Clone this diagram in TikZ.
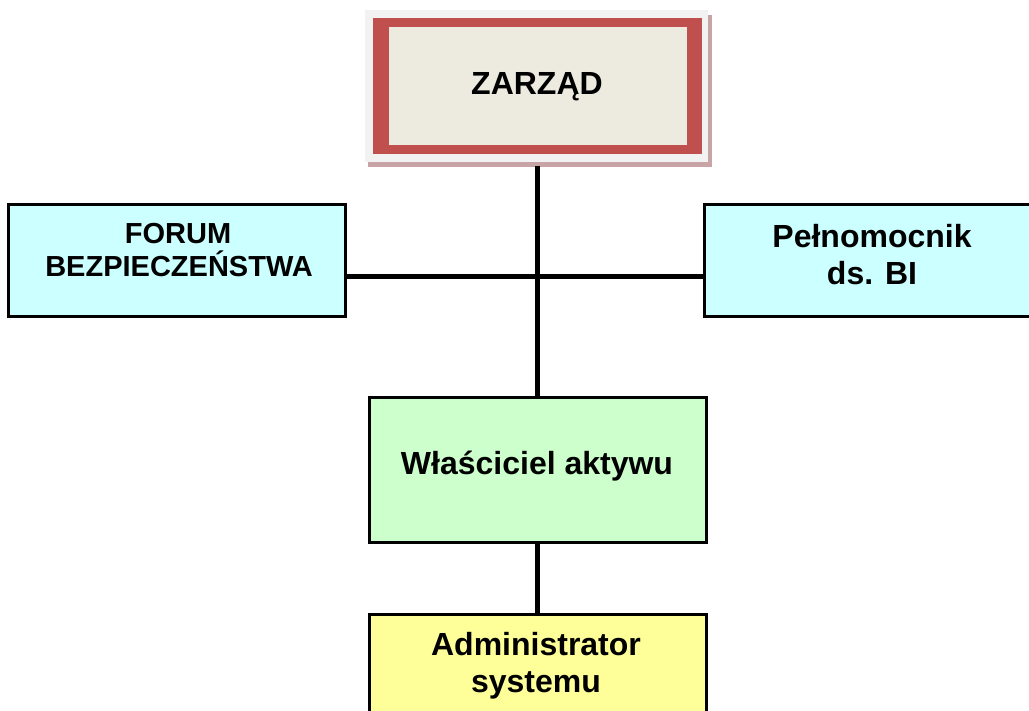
\documentclass[tikz,border=0pt]{standalone}
\usepackage{fontspec}
\setmainfont{Liberation Sans}
\usetikzlibrary{backgrounds}
\definecolor{zbeige}{HTML}{EDEBE0}
\definecolor{zred}{HTML}{C0504D}
\definecolor{zframe}{HTML}{F2F2F2}
\definecolor{zshadow}{HTML}{C8A4A6}
\definecolor{zcyan}{HTML}{CCFFFF}
\definecolor{zgreen}{HTML}{CCFFCC}
\definecolor{zyellow}{HTML}{FFFF99}
\begin{document}
\begin{tikzpicture}[x=1pt,y=-1pt,
  box/.style={draw=black,line width=3pt,rectangle,inner sep=0pt},
  big/.style={font=\fontsize{32}{37}\selectfont\bfseries,anchor=base,inner sep=0pt},
  mid/.style={font=\fontsize{29}{33}\selectfont\bfseries,anchor=base,inner sep=0pt},
  conn/.style={draw=black,line width=5pt}]
\useasboundingbox (0,0) rectangle (1029,711);
\clip (0,0) rectangle (1029,711);
% ZARZAD
\node[rectangle,fill=zframe,minimum width=343pt,minimum height=152pt,inner sep=0pt] (zarzad) at (536.5,86) {};
\fill[zred] (373,18) rectangle (702,154);
\fill[zbeige] (389,27) rectangle (687,145);
\node[big] (zt) at (537,95) {ZARZĄD};
% boxes
\node[box,fill=zcyan,minimum width=337pt,minimum height=112pt] (forum) at (176.5,261) {};
\node[box,fill=zcyan,minimum width=336pt,minimum height=112pt] (pel) at (872,261) {};
\node[box,fill=zgreen,minimum width=337pt,minimum height=144pt] (wl) at (537.5,470) {};
\node[box,fill=zyellow,minimum width=337pt,minimum height=120pt] (adm) at (537.5,674) {};
% connectors
\coordinate (hl) at (0,277);
\begin{pgfonlayer}{background}
\fill[zshadow] (368,15) rectangle (712,167);
\draw[conn] ([yshift=-4pt]zarzad.south -| wl.north) -- (wl.north);
\draw[conn] (forum.east |- hl) -- (pel.west |- hl);
\draw[conn] (wl.south) -- (adm.north);
\end{pgfonlayer}
% texts
\node[mid] (f1) at (178,244) {FORUM};
\node[mid] (f2) at (179,277) {BEZPIECZEŃSTWA};
\node[big] (p1) at (872,248) {Pełnomocnik};
\node[big] (p2) at (872,285) {ds. BI};
\node[big] (w1) at (537,475) {Właściciel aktywu};
\node[big] (a1) at (536,655) {Administrator};
\node[big] (a2) at (536,692) {systemu};
\end{tikzpicture}
\end{document}
